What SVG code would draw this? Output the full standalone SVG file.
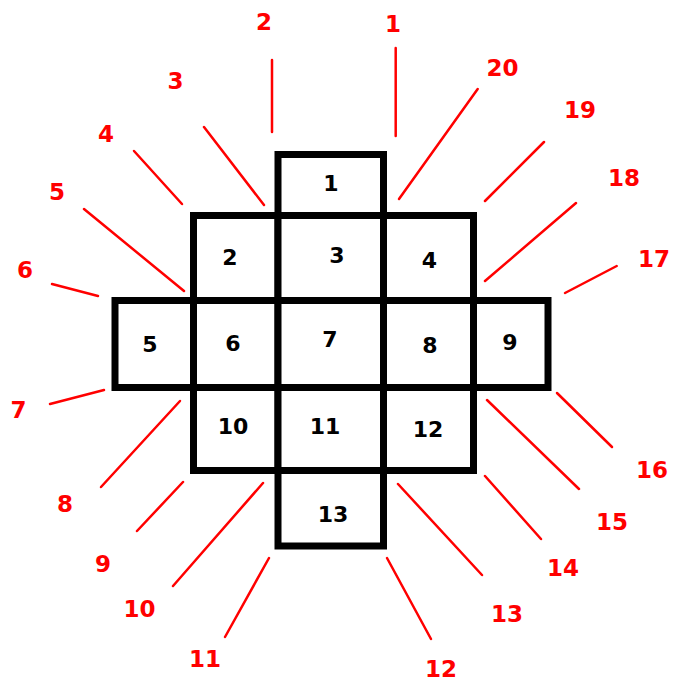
<svg xmlns="http://www.w3.org/2000/svg" width="675" height="682" viewBox="0 0 675 682">
<style>
.cell{fill:#fff;stroke:#000;stroke-width:7}
.cl{font-family:"DejaVu Sans",Verdana,sans-serif;font-weight:bold;font-size:22px;fill:#000;text-anchor:middle}
.rl{font-family:"DejaVu Sans",Verdana,sans-serif;font-weight:bold;font-size:23px;fill:#f00;text-anchor:middle}
.ln{stroke:#f00;stroke-width:2.5;stroke-linecap:round;fill:none}
</style>
<rect width="675" height="682" fill="#fff"/>
<g id="cells">
<g id="c1"><rect class="cell" x="278" y="154.5" width="105.5" height="61"/><text class="cl" x="331" y="191">1</text></g>
<g id="c2"><rect class="cell" x="193.5" y="215.5" width="84.5" height="85"/><text class="cl" x="230" y="265">2</text></g>
<g id="c3"><rect class="cell" x="278" y="215.5" width="105.5" height="85"/><text class="cl" x="337" y="263">3</text></g>
<g id="c4"><rect class="cell" x="383.5" y="215.5" width="90" height="85"/><text class="cl" x="429.5" y="268">4</text></g>
<g id="c5"><rect class="cell" x="115" y="300.5" width="78.5" height="87"/><text class="cl" x="150" y="352">5</text></g>
<g id="c6"><rect class="cell" x="193.5" y="300.5" width="84.5" height="87"/><text class="cl" x="233" y="351">6</text></g>
<g id="c7"><rect class="cell" x="278" y="300.5" width="105.5" height="87"/><text class="cl" x="330" y="347">7</text></g>
<g id="c8"><rect class="cell" x="383.5" y="300.5" width="90" height="87"/><text class="cl" x="430" y="353">8</text></g>
<g id="c9"><rect class="cell" x="473.5" y="300.5" width="74.5" height="87"/><text class="cl" x="510" y="350">9</text></g>
<g id="c10"><rect class="cell" x="193.5" y="387.5" width="84.5" height="83"/><text class="cl" x="233" y="434">10</text></g>
<g id="c11"><rect class="cell" x="278" y="387.5" width="105.5" height="83"/><text class="cl" x="325" y="434">11</text></g>
<g id="c12"><rect class="cell" x="383.5" y="387.5" width="90" height="83"/><text class="cl" x="428" y="437">12</text></g>
<g id="c13"><rect class="cell" x="278" y="470.5" width="105.5" height="75.5"/><text class="cl" x="333" y="522">13</text></g>
</g>
<g id="connectors">
<line class="ln" x1="395.7" y1="48" x2="395.7" y2="136"/>
<line class="ln" x1="272" y1="60" x2="272" y2="132"/>
<line class="ln" x1="204" y1="127" x2="264" y2="205"/>
<line class="ln" x1="134" y1="151" x2="182" y2="204"/>
<line class="ln" x1="84" y1="209" x2="184" y2="291"/>
<line class="ln" x1="52" y1="284" x2="98" y2="296"/>
<line class="ln" x1="50" y1="404" x2="104" y2="390"/>
<line class="ln" x1="101" y1="487" x2="180" y2="401"/>
<line class="ln" x1="137" y1="531" x2="183" y2="482"/>
<line class="ln" x1="173" y1="586" x2="263" y2="483"/>
<line class="ln" x1="225" y1="637" x2="269" y2="558"/>
<line class="ln" x1="387" y1="558" x2="431" y2="639"/>
<line class="ln" x1="398" y1="484" x2="482" y2="575"/>
<line class="ln" x1="485" y1="476" x2="541" y2="539"/>
<line class="ln" x1="487" y1="400" x2="579" y2="489"/>
<line class="ln" x1="557" y1="393" x2="612" y2="447"/>
<line class="ln" x1="565" y1="293" x2="616.7" y2="266"/>
<line class="ln" x1="485" y1="281" x2="576" y2="203"/>
<line class="ln" x1="485" y1="201" x2="544" y2="142"/>
<line class="ln" x1="399" y1="199" x2="477.7" y2="89"/>
</g>
<g id="labels">
<text class="rl" x="393" y="32">1</text>
<text class="rl" x="264" y="30">2</text>
<text class="rl" x="175.5" y="89">3</text>
<text class="rl" x="106" y="142">4</text>
<text class="rl" x="57" y="200">5</text>
<text class="rl" x="25" y="278">6</text>
<text class="rl" x="18.5" y="418">7</text>
<text class="rl" x="65" y="512">8</text>
<text class="rl" x="103" y="572">9</text>
<text class="rl" x="139.5" y="617">10</text>
<text class="rl" x="205" y="667">11</text>
<text class="rl" x="441" y="677">12</text>
<text class="rl" x="507" y="622">13</text>
<text class="rl" x="563" y="576">14</text>
<text class="rl" x="612" y="530">15</text>
<text class="rl" x="652" y="478">16</text>
<text class="rl" x="654" y="267">17</text>
<text class="rl" x="624" y="186">18</text>
<text class="rl" x="580" y="118">19</text>
<text class="rl" x="502.5" y="76">20</text>
</g>
</svg>
